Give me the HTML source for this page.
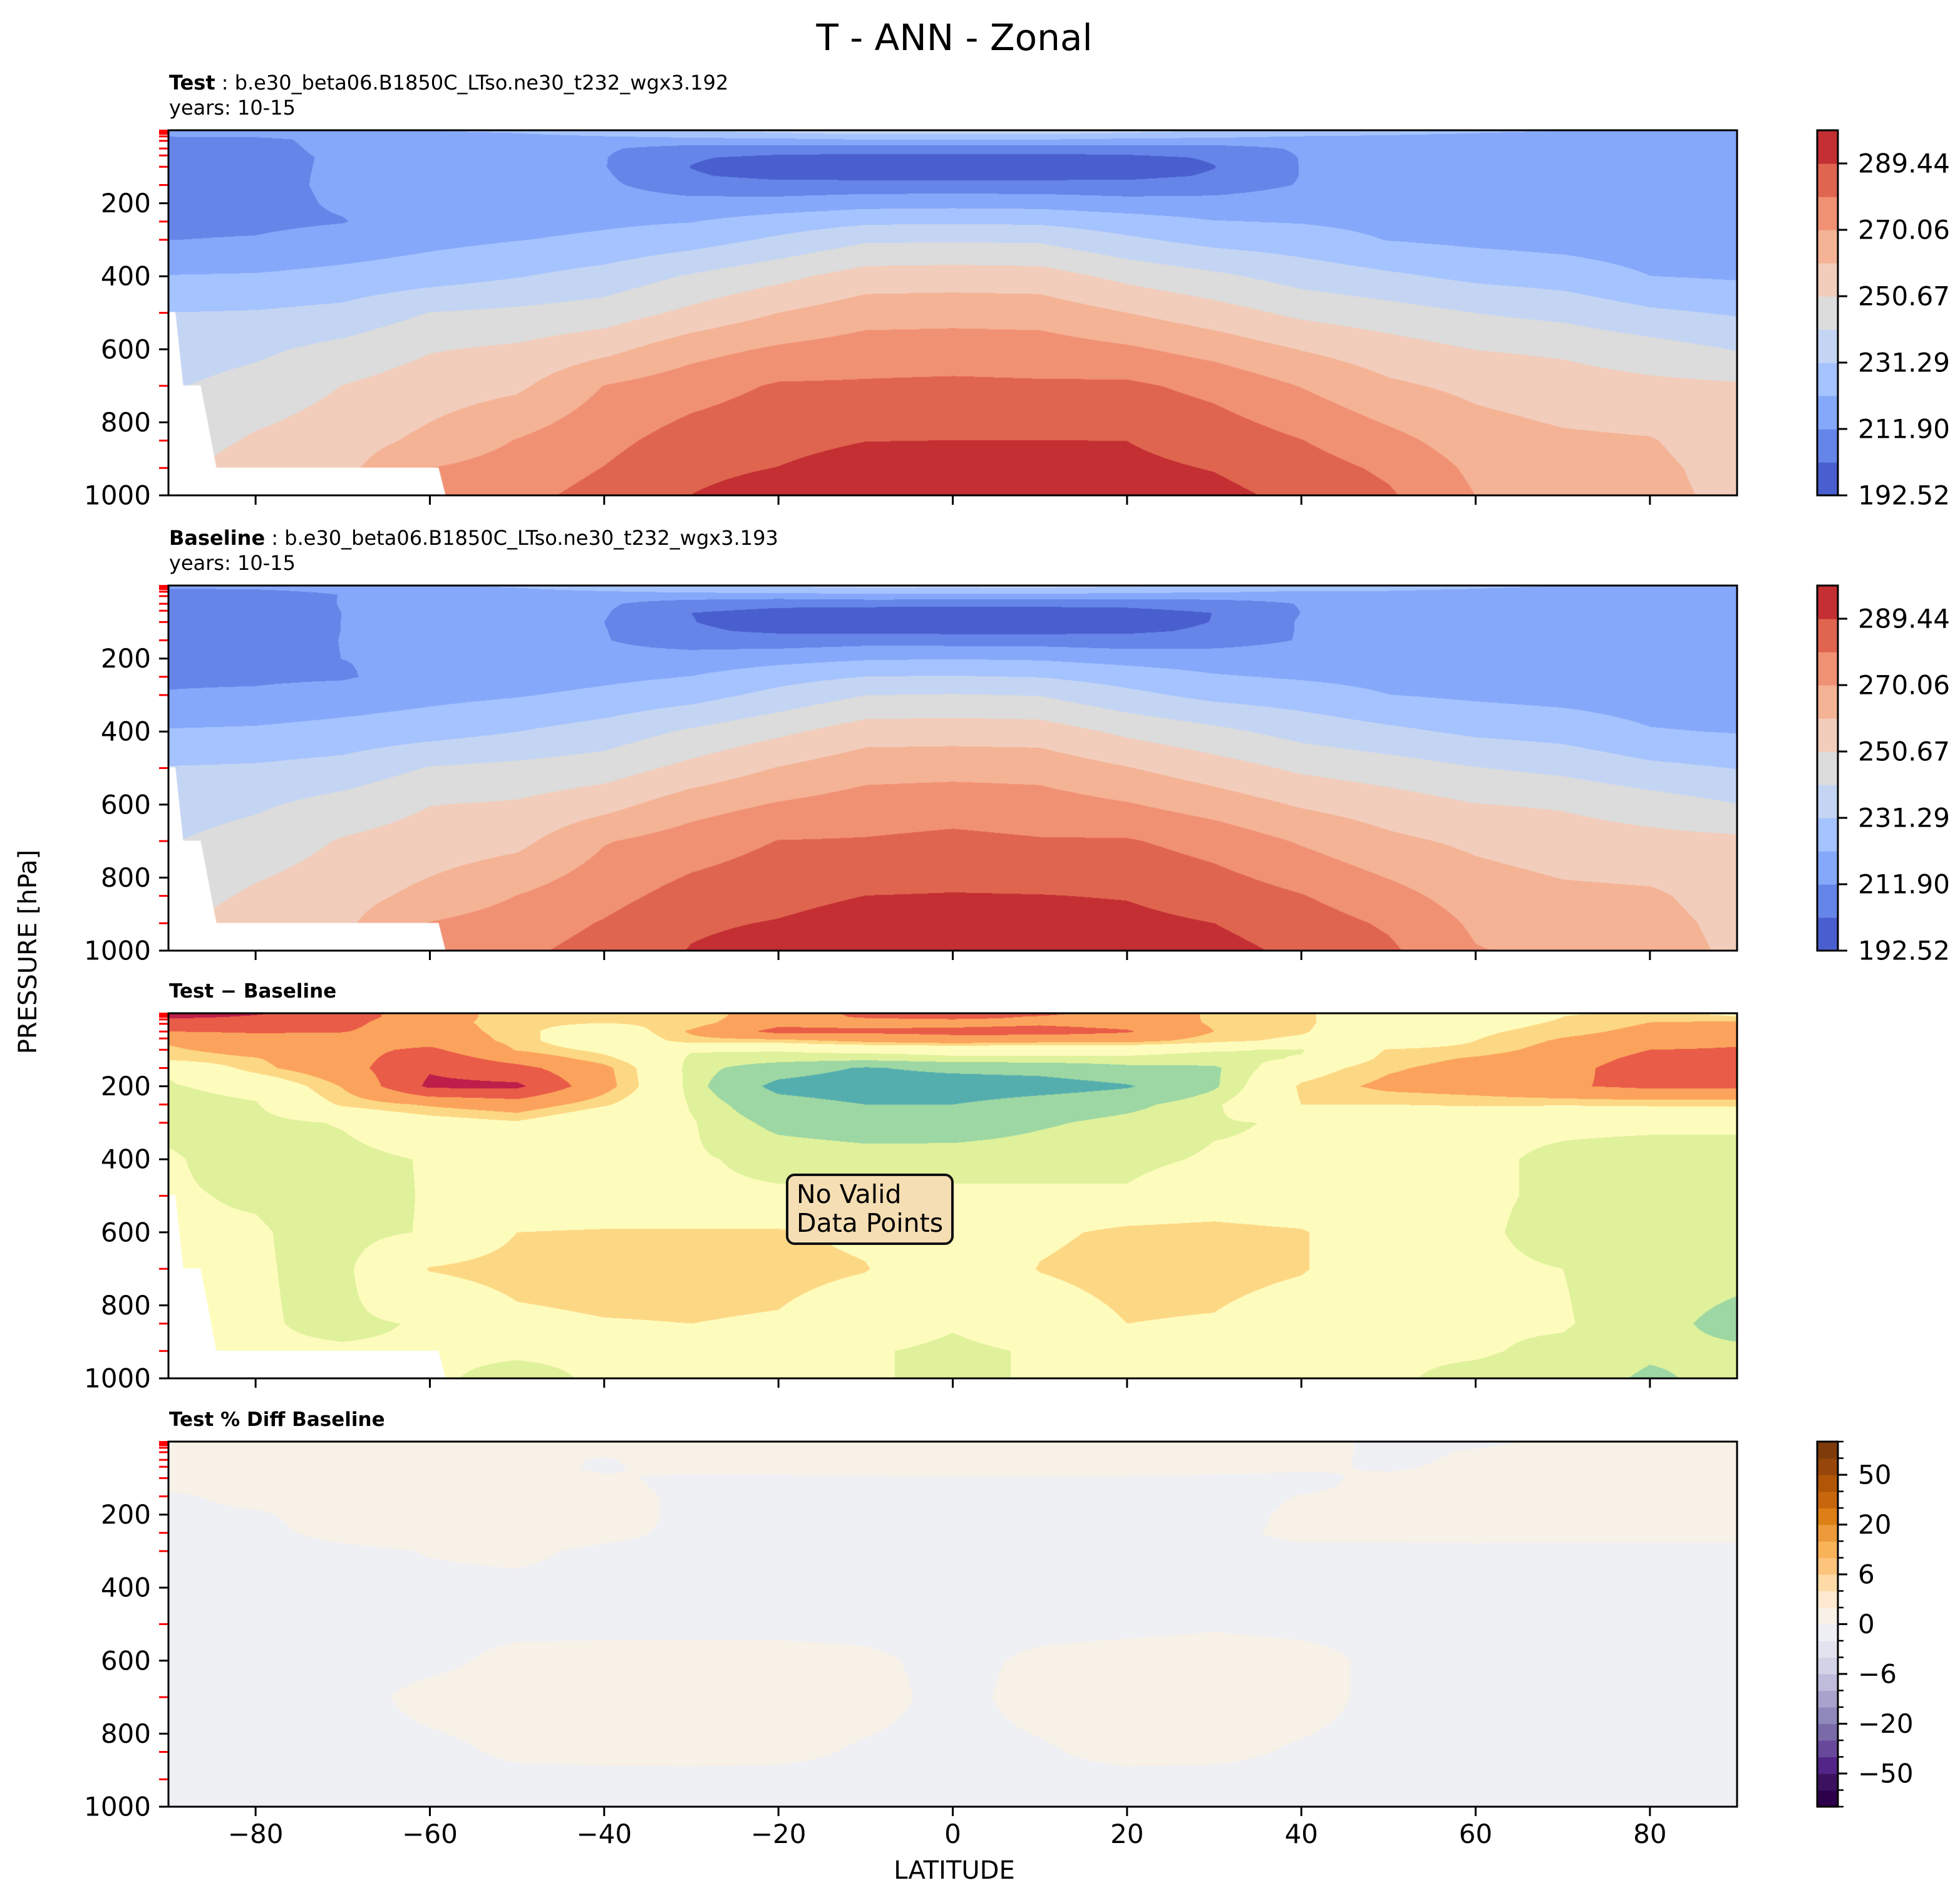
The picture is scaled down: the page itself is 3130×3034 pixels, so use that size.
<!DOCTYPE html>
<html>
<head>
<meta charset="utf-8">
<style>
body{margin:0;width:3130px;height:3034px;background:#fff;position:relative;overflow:hidden;font-family:"DejaVu Sans","Liberation Sans",sans-serif;}
canvas{position:absolute;}
#overlay{position:absolute;left:0;top:0;}
</style>
</head>
<body>
<canvas id="c0" width="2505" height="583" style="left:269px;top:208px"></canvas>
<canvas id="c1" width="2505" height="583" style="left:269px;top:935px"></canvas>
<canvas id="c2" width="2505" height="583" style="left:269px;top:1618px"></canvas>
<canvas id="c3" width="2505" height="583" style="left:269px;top:2302px"></canvas>
<svg id="overlay" width="3130" height="3034" xmlns="http://www.w3.org/2000/svg">
  <text x="1524" y="80" font-size="58" text-anchor="middle">T - ANN - Zonal</text>
  <text x="270" y="143" font-size="32"><tspan font-weight="bold">Test</tspan> : b.e30_beta06.B1850C_LTso.ne30_t232_wgx3.192</text>
  <text x="270" y="183" font-size="32">years: 10-15</text>
  <text x="270" y="870" font-size="32"><tspan font-weight="bold">Baseline</tspan> : b.e30_beta06.B1850C_LTso.ne30_t232_wgx3.193</text>
  <text x="270" y="910" font-size="32">years: 10-15</text>
  <text x="270" y="1593" font-size="31" font-weight="bold">Test − Baseline</text>
  <text x="270" y="2277" font-size="31" font-weight="bold">Test % Diff Baseline</text>
  <text transform="translate(58,1520) rotate(-90)" font-size="40" text-anchor="middle">PRESSURE [hPa]</text>
  <text x="1524" y="3000" font-size="40" text-anchor="middle">LATITUDE</text>
  <g id="axes"></g>
  <g>
    <rect x="1257" y="1876" width="264" height="110" rx="12" fill="#f5deb3" stroke="#111" stroke-width="4"></rect>
    <text x="1272" y="1921" font-size="41">No Valid</text>
    <text x="1272" y="1967" font-size="41">Data Points</text>
  </g>
</svg>
<script>
const lats=[-90,-80,-70,-60,-50,-40,-30,-20,-10,0,10,20,30,40,50,60,70,80,90];
const plevs=[0,10,25,50,75,100,125,150,200,250,300,400,500,600,700,850,925,1000];
const testT=[
[222,214,210,209,208.5,208.5,208.5,208.5,209,210,211.8,222,231.4,236,240,245,248,250],
[222,215,210,209,208.5,208.5,209,209,209,210,212.5,222.5,232,239,244.5,252,256,258],
[220,217,214.5,214.3,213.5,213.7,213.6,213.7,213,211.5,215.5,224.5,234,244,250.8,256,258,260],
[222,219,214,214,215,215.5,215,215.5,216.5,217.5,219,227,241.2,250,255.5,262.8,270,273],
[224,221,215,213,213,213.5,214,215,215.5,218,221.3,230.8,243,252.3,258.5,270.5,274,277],
[228,225,217,213,212.3,212.2,213,213.5,216,220,223.5,235,245.5,257.5,270.3,277,280,283],
[232,228,219,208,203,202,203,207,215,221.3,227,242,253,266.5,275.5,284,287.5,289.5],
[234,230,220,207,200,198,200,205,216,226,233,248,260.4,271.5,280.8,287,289.6,293],
[236,232,222,207,199,196,199,206,218,229.5,239.5,255,266,274.5,281,289.3,293,297],
[236,232,222,207,199,196,199,206,218.5,230,240,255.5,266.4,275,281.5,289.5,293.5,298],
[236,232,222,207,199,196,199,206,218,229.5,239.5,255,266,274.5,281,289.5,293,297],
[234,230,220,207,200,198,200,205,216,226,233,248,260.4,271.5,281.5,289.4,291.5,294],
[232,228,219,208,203,202,203,207,215.5,222,228,243,254.8,266.5,277,285.5,289,292],
[228,225,217,213,212.3,212.2,212.2,212.5,217,221,226,237,248.5,260,269.7,280,284,287],
[226,223,217,214,213.5,213.5,214,215,216.5,219,221.3,233,245,255,262,273,278,281],
[224,221,215,214.5,214.5,214.5,214.5,214.8,215.5,216.5,219.5,229,240.9,250.5,258,265,268,270],
[222,219,214,215,215,215.5,215.8,216,216.5,217,218,227,238,249,255,262,265,267],
[221,218,215.5,215.5,215.5,215.8,216,216,216.5,216.5,216.5,221.7,233,245,253,261,262.5,263],
[221,218,215.5,216,216,216,216.5,216.5,216.5,216,215.5,220.5,230.3,240.5,252,255,257,258]
];
const diffT=[
[3.5,3.2,2.5,2.0,1.1,0.9,0.65,-0.45,-0.55,-0.7,-0.6,-0.45,-0.45,-0.45,-0.45,-0.45,-0.45,-0.45],
[3.1,2.9,2.6,2.1,1.6,1.3,0.95,0.8,-0.3,-0.55,-0.7,-0.7,-0.55,-0.45,-0.45,-0.45,-0.45,-0.45],
[2.4,2.4,2.3,2.05,1.5,1.7,1.6,1.6,1.05,0.6,-0.45,-0.7,-0.75,-0.7,-0.65,-0.6,-0.45,-0.45],
[1.5,1.5,1.3,1.4,1.6,2.2,2.6,2.9,3.2,1.1,0.1,-0.45,-0.45,-0.45,0.55,-0.45,-0.45,-0.45],
[0.6,0.6,0.7,0.75,0.8,0.95,1.6,2.3,3.2,1.5,0.4,-0.45,-0.45,0.5,0.8,0.3,-0.45,-0.6],
[0.6,0.55,0.55,-0.2,-0.3,0.3,0.7,1.2,1.3,0.6,-0.45,-0.45,-0.45,0.6,0.9,0.45,-0.45,-0.45],
[0.6,0.6,0.7,1.1,0.8,-0.45,-0.6,-0.7,-0.7,-0.55,-0.45,-0.45,-0.45,0.6,0.85,0.5,-0.45,-0.45],
[1.5,1.6,1.7,2.3,0.8,-0.45,-0.7,-1.5,-2.3,-1.6,-1.2,-0.6,-0.45,0.6,0.8,0.4,-0.45,-0.45],
[2.2,2.1,1.6,2.2,1.2,-0.3,-0.8,-2.1,-2.6,-2.0,-1.4,-0.7,-0.45,0.3,0.55,-0.2,-0.45,-0.45],
[2.6,2.3,1.6,2.3,1.5,-0.3,-0.6,-1.7,-2.7,-2.0,-1.5,-0.6,-0.45,-0.45,-0.45,-0.45,-0.6,-0.6],
[2.3,1.9,1.8,2.4,1.3,-0.3,-0.6,-1.6,-2.5,-1.5,-1.1,-0.6,-0.45,0.3,0.55,-0.2,-0.45,-0.45],
[1.5,1.5,1.6,2.1,1.3,-0.3,-0.6,-1.2,-2.1,-1.2,-0.8,-0.6,-0.45,0.7,0.9,0.5,-0.45,-0.45],
[0.9,0.9,0.9,1.0,0.7,-0.45,-0.7,-1.1,-1.1,-0.6,-0.55,-0.45,-0.2,0.8,0.9,0.4,-0.45,-0.45],
[0.7,0.7,0.7,0.6,0.3,-0.55,-0.45,0.1,0.6,0.5,-0.45,-0.45,-0.45,0.6,0.6,-0.2,-0.45,-0.45],
[-0.45,-0.45,-0.45,-0.45,-0.2,0.55,0.7,0.9,1.2,0.5,-0.45,-0.45,-0.45,-0.45,-0.45,-0.45,-0.45,-0.45],
[-0.45,-0.2,0.1,0.35,0.5,0.7,1.1,1.3,1.4,0.6,-0.45,-0.45,-0.45,-0.45,-0.45,-0.45,-0.45,-0.6],
[0.45,0.5,0.6,0.8,1.1,1.3,1.5,1.7,1.9,0.55,-0.45,-0.55,-0.55,-0.6,-0.5,-0.45,-0.6,-0.7],
[0.5,0.8,1.0,1.2,1.4,2.0,2.3,2.5,2.2,0.6,-0.45,-0.6,-0.7,-0.7,-0.75,-0.8,-0.9,-1.1],
[0.4,0.5,1.1,1.4,1.8,2.1,2.5,2.6,2.2,0.6,-0.45,-0.6,-0.7,-0.7,-0.8,-1.2,-0.9,-0.8]
];
const tLevels=[192.52,202.21,211.90,221.60,231.29,240.98,250.67,260.37,270.06,279.75,289.44,299.13];
const tColors=["#4a5fcf","#6585e8","#85a8fa","#a5c3fe","#c4d5f3","#dcdcdc","#f2cdbb","#f5b396","#f19173","#e0654f","#c32f32"];
const tTickLabels=["192.52","211.90","231.29","250.67","270.06","289.44"];
const tTickValues=[192.52,211.90,231.29,250.67,270.06,289.44];
const diffLevels=[-5,-4,-3,-2,-1,-0.5,0.5,1,2,3,4,5];
const diffColors=["#5e4fa2","#3288bd","#55aeae","#9dd7a3","#dff19b","#fefcbd","#fdd884","#fba35c","#e95c47","#be1e4a","#9e0142"];
const pctLevels=[-100,-75,-50,-40,-30,-20,-15,-10,-6,-4,-2,0,2,4,6,10,15,20,30,40,50,75,100];
const pctColors=["#2d004b","#3c1260","#532588","#67489a","#7a6aa8","#8f88bb","#a9a2cc","#bfbcdb","#d3d3e8","#e3e3ef","#eff0f3","#f8f1e8","#fee9d0","#fedba6","#fdc47e","#f8b257","#ec9a3a","#dc7f16","#c8660d","#b15607","#96460a","#7f3c0a"];
const pctTickLabels=["−50","−20","−6","0","6","20","50"];
const pctTickValues=[-50,-20,-6,0,6,20,50];
const xTicks=[-80,-60,-40,-20,0,20,40,60,80];
const yTicks=[200,400,600,800,1000];
const modelLevels=[1,2,3,5,7,10,17,29,50,69,100,150,250,300,500,700,850,925];
const maskLat=[-90,-89.2,-88.3,-86.3,-84.5,-59,-58.2,-90];
const maskP=[498,498,699,699,924,924,1000,1000];

const AX0=269, AW=2505, AH=583;
const tops=[208,935,1618,2302];
function X(lat){return AX0+(lat+90)/180*AW;}
function Y(p,top){return top+p/1000*AH;}

function hexRgb(h){return [parseInt(h.substr(1,2),16),parseInt(h.substr(3,2),16),parseInt(h.substr(5,2),16)];}
function fillPanel(id,getVal,levels,colors,mask){
  const cv=document.getElementById(id);const ctx=cv.getContext('2d');
  const img=ctx.createImageData(AW,AH);const d=img.data;
  const rgb=colors.map(hexRgb);
  const nl=lats.length, np=plevs.length;
  const colI=[],colS=[];
  for(let px=0;px<AW;px++){
    const lat=-90+(px+0.5)/AW*180;
    let i=0;while(i<nl-2&&lats[i+1]<=lat)i++;
    colI.push(i);colS.push((lat-lats[i])/(lats[i+1]-lats[i]));
  }
  for(let py=0;py<AH;py++){
    const p=(py+0.5)/AH*1000;
    let j=0;while(j<np-2&&plevs[j+1]<=p)j++;
    const t=(p-plevs[j])/(plevs[j+1]-plevs[j]);
    for(let px=0;px<AW;px++){
      const i=colI[px],s=colS[px];
      const v=(1-s)*((1-t)*getVal(i,j)+t*getVal(i,j+1))+s*((1-t)*getVal(i+1,j)+t*getVal(i+1,j+1));
      let k=0;while(k<colors.length-1&&v>=levels[k+1])k++;
      const c=rgb[k];const o=(py*AW+px)*4;
      d[o]=c[0];d[o+1]=c[1];d[o+2]=c[2];d[o+3]=255;
    }
  }
  ctx.putImageData(img,0,0);
  if(mask){
    ctx.fillStyle='#fff';ctx.beginPath();
    for(let m=0;m<maskLat.length;m++){
      const mx=X(maskLat[m])-AX0, my=maskP[m]/1000*AH;
      if(m===0)ctx.moveTo(mx,my);else ctx.lineTo(mx,my);
    }
    ctx.closePath();ctx.fill();
  }
}
fillPanel('c0',(i,j)=>testT[i][j],tLevels,tColors,true);
fillPanel('c1',(i,j)=>testT[i][j]-diffT[i][j],tLevels,tColors,true);
fillPanel('c2',(i,j)=>diffT[i][j],diffLevels,diffColors,true);
fillPanel('c3',(i,j)=>diffT[i][j]/(testT[i][j]-diffT[i][j])*100,pctLevels,pctColors,false);

const NS='http://www.w3.org/2000/svg';
const axes=document.getElementById('axes');
function mk(tag,attrs,parent){const e=document.createElementNS(NS,tag);for(const k in attrs)e.setAttribute(k,attrs[k]);(parent||axes).appendChild(e);return e;}

tops.forEach((top,pi)=>{
  const g=mk('g',{});
  
  
  modelLevels.forEach(p=>{
    const l=mk('line',{x1:AX0-15,x2:AX0,y1:Y(p,top),y2:Y(p,top),stroke:'#ff0000','stroke-width':3},g);
    
    
  });
  yTicks.forEach(p=>{
    const l=mk('line',{x1:AX0-15,x2:AX0,y1:Y(p,top),y2:Y(p,top),stroke:'#000','stroke-width':3},g);
    
    
    const t=mk('text',{x:AX0-28,y:Y(p,top),'font-size':42,'text-anchor':'end','dominant-baseline':'central'},g);
    t.textContent=String(p);
    
    
  });
  xTicks.forEach(v=>{
    const l=mk('line',{x1:X(v),x2:X(v),y1:top+AH,y2:top+AH+15,stroke:'#000','stroke-width':3},g);
    
    
    if(pi===3){
      const t=mk('text',{x:X(v),y:top+AH+58,'font-size':42,'text-anchor':'middle'},g);
      t.textContent=v<0?'−'+Math.abs(v):String(v);
      
      
    }
  });
  const fr=mk('rect',{x:AX0,y:top,width:AW,height:AH,fill:'none',stroke:'#000','stroke-width':3},g);
  
  
});

function colorbar(top,levels,colors,tickVals,tickLabels,minor){
  const CX=2902,CW=33,n=colors.length,bh=AH/n;
  const g=mk('g',{});
  
  
  colors.forEach((c,k)=>{
    const r=mk('rect',{x:CX,y:top+AH-(k+1)*bh,width:CW,height:bh+0.6,fill:c},g);
    
    
  });
  if(minor){
    levels.forEach((v,k)=>{
      const l=mk('line',{x1:CX+CW,x2:CX+CW+9,y1:top+AH-k*bh,y2:top+AH-k*bh,stroke:'#000','stroke-width':2.5},g);
      
      
    });
  }
  tickVals.forEach((v,ti)=>{
    const k=levels.indexOf(v);const y=top+AH-k*bh;
    const l=mk('line',{x1:CX+CW,x2:CX+CW+15,y1:y,y2:y,stroke:'#000','stroke-width':3},g);
    
    
    const t=mk('text',{x:CX+CW+32,y:y,'font-size':42,'dominant-baseline':'central'},g);
    t.textContent=tickLabels[ti];
    
    
  });
  const fr=mk('rect',{x:CX,y:top,width:CW,height:AH,fill:'none',stroke:'#000','stroke-width':3},g);
  
  
}
colorbar(tops[0],tLevels,tColors,tTickValues,tTickLabels,false);
colorbar(tops[1],tLevels,tColors,tTickValues,tTickLabels,false);
colorbar(tops[3],pctLevels,pctColors,pctTickValues,pctTickLabels,true);
</script>
</body>
</html>
